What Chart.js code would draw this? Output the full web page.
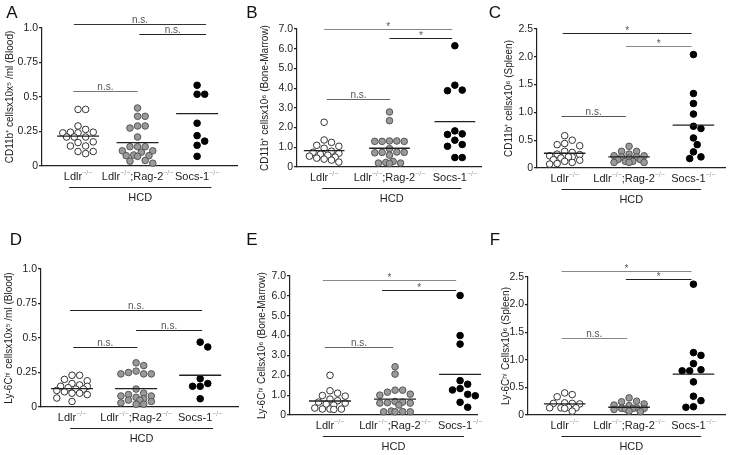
<!DOCTYPE html>
<html>
<head>
<meta charset="utf-8">
<script src="https://cdn.jsdelivr.net/npm/chart.js@4.4.0/dist/chart.umd.min.js"></script>
<style>
  html, body { margin: 0; padding: 0; background: #fff; }
  #wrap { position: relative; width: 730px; height: 455px; }
  .cell { position: absolute; }
</style>
</head>
<body>
<div id="wrap"></div>
<script>
// categories: [text, superscript, text, superscript]
var categories = [
  ['Ldlr', '\u2212/\u2212'],
  ['Ldlr', '\u2212/\u2212', ';Rag-2', '\u2212/\u2212'],
  ['Socs-1', '\u2212/\u2212']
];
var bracketLabel = 'HCD';

// A - CD11b+ blood
var cd11bBloodLdlr = [0.41, 0.41, 0.29, 0.265, 0.245, 0.245, 0.24, 0.24, 0.21, 0.21, 0.21, 0.175, 0.17, 0.145, 0.145, 0.105, 0.105, 0.09];
var cd11bBloodRag = [0.42, 0.36, 0.36, 0.29, 0.29, 0.275, 0.21, 0.14, 0.14, 0.14, 0.11, 0.11, 0.10, 0.08, 0.075, 0.075, 0.07, 0.04, 0.035, 0.02];
var cd11bBloodSocs = [0.585, 0.52, 0.52, 0.31, 0.22, 0.18, 0.15, 0.07];
var cd11bBloodMeans = [0.217, 0.169, 0.38];
var cd11bBloodSig = ['n.s.', 'n.s.', 'n.s.'];

// B - CD11b+ bone marrow
var cd11bMarrowLdlr = [2.27, 1.37, 1.25, 1.1, 1.05, 0.95, 0.8, 0.75, 0.7, 0.65, 0.6, 0.55, 0.5, 0.45, 0.4, 0.35, 0.25];
var cd11bMarrowRag = [2.79, 2.35, 1.32, 1.3, 1.3, 1.3, 1.32, 0.93, 0.76, 0.74, 0.72, 0.74, 0.6, 0.28, 0.23, 0.18, 0.2, 0.2];
var cd11bMarrowSocs = [6.15, 4.15, 3.9, 3.87, 1.83, 1.68, 1.65, 1.36, 1.14, 1.05, 0.48, 0.48];
var cd11bMarrowMeans = [0.83, 0.95, 2.3];
var cd11bMarrowSig = ['*', '*', 'n.s.'];

// C - CD11b+ spleen
var cd11bSpleenLdlr = [0.58, 0.5, 0.44, 0.42, 0.4, 0.3, 0.28, 0.25, 0.24, 0.22, 0.21, 0.2, 0.2, 0.18, 0.15, 0.14, 0.12, 0.1, 0.08, 0.07];
var cd11bSpleenRag = [0.39, 0.3, 0.3, 0.25, 0.22, 0.22, 0.2, 0.2, 0.18, 0.15, 0.15, 0.12, 0.12, 0.1, 0.1, 0.1];
var cd11bSpleenSocs = [2.04, 1.34, 1.16, 0.97, 0.75, 0.71, 0.54, 0.42, 0.29, 0.2, 0.17];
var cd11bSpleenMeans = [0.265, 0.2, 0.77];
var cd11bSpleenSig = ['*', '*', 'n.s.'];

// D - Ly-6Chi blood
var ly6cBloodLdlr = [0.23, 0.23, 0.2, 0.19, 0.17, 0.16, 0.15, 0.15, 0.14, 0.13, 0.13, 0.12, 0.11, 0.1, 0.1, 0.09, 0.065, 0.04];
var ly6cBloodRag = [0.32, 0.3, 0.26, 0.25, 0.24, 0.24, 0.24, 0.13, 0.1, 0.09, 0.08, 0.08, 0.07, 0.06, 0.05, 0.05, 0.04, 0.03, 0.02, 0.02];
var ly6cBloodSocs = [0.47, 0.435, 0.205, 0.17, 0.15, 0.15, 0.06];
var ly6cBloodMeans = [0.133, 0.133, 0.23];
var ly6cBloodSig = ['n.s.', 'n.s.', 'n.s.'];

// E - Ly-6Chi bone marrow
var ly6cMarrowLdlr = [2.0, 1.22, 1.1, 0.98, 0.95, 0.8, 0.72, 0.65, 0.6, 0.55, 0.5, 0.35, 0.3, 0.3, 0.3, 0.28];
var ly6cMarrowRag = [2.43, 2.06, 1.25, 1.25, 1.15, 1.05, 1.0, 0.68, 0.65, 0.62, 0.6, 0.6, 0.5, 0.2, 0.17, 0.16, 0.16, 0.16];
var ly6cMarrowSocs = [6.02, 4.0, 3.57, 1.73, 1.55, 1.33, 1.26, 1.04, 0.97, 0.64, 0.39];
var ly6cMarrowMeans = [0.705, 0.8, 2.05];
var ly6cMarrowSig = ['*', '*', 'n.s.'];

// F - Ly-6Chi spleen
var ly6cSpleenLdlr = [0.4, 0.37, 0.33, 0.22, 0.21, 0.21, 0.2, 0.14, 0.13, 0.13, 0.13, 0.12, 0.07];
var ly6cSpleenRag = [0.31, 0.25, 0.24, 0.2, 0.18, 0.17, 0.13, 0.12, 0.12, 0.12, 0.11, 0.1, 0.07, 0.06];
var ly6cSpleenSocs = [2.37, 1.13, 1.08, 0.93, 0.82, 0.8, 0.8, 0.6, 0.34, 0.26, 0.15, 0.14];
var ly6cSpleenMeans = [0.2, 0.14, 0.74];
var ly6cSpleenSig = ['*', '*', 'n.s.'];

// tick labels
var bloodTicks = ['0', '0.25', '0.5', '0.75', '1.0'];
var marrowTicks = ['0', '1.0', '2.0', '3.0', '4.0', '5.0', '6.0', '7.0'];
var spleenTicks = ['0', '0.5', '1.0', '1.5', '2.0', '2.5'];

Chart.defaults.font.family = "'Liberation Sans', Arial, sans-serif";
Chart.defaults.color = '#222';

var panels = [
  { letter: 'A', title: 'CD11b\u207A cellsx10x\u2075 /ml (Blood)', groups: [cd11bBloodLdlr, cd11bBloodRag, cd11bBloodSocs],
    means: cd11bBloodMeans, sig: cd11bBloodSig, ticks: bloodTicks, yMax: 1, step: 0.25,
    L: { cell: [0, 0, 243, 225], axisX: 42, top: 28, bottom: 166, right: 237, titleX: 10, xMin: 0.395, xMax: 3.67,
         letterPos: [12, 13], hcd: [0.85, 3.24],
         bars: [[1.03, 0.93, 3.15, '#333'], [0.96, 2.03, 3.15, '#222'], [0.54, 0.92, 2.0, '#777']] } },
  { letter: 'B', title: 'CD11b\u207A cellsx10\u2076 (Bone-Marrow)', groups: [cd11bMarrowLdlr, cd11bMarrowRag, cd11bMarrowSocs],
    means: cd11bMarrowMeans, sig: cd11bMarrowSig, ticks: marrowTicks, yMax: 7, step: 1,
    L: { cell: [243, 0, 243, 225], axisX: 297, top: 29, bottom: 167, right: 487, titleX: 265, xMin: 0.585, xMax: 3.4,
         letterPos: [252, 13], hcd: [0.97, 3.1],
         bars: [[7.0, 1.0, 2.96, '#888'], [6.53, 2.0, 2.96, '#222'], [3.45, 1.04, 2.01, '#666']] } },
  { letter: 'C', title: 'CD11b\u207A cellsx10\u2076 (Spleen)', groups: [cd11bSpleenLdlr, cd11bSpleenRag, cd11bSpleenSocs],
    means: cd11bSpleenMeans, sig: cd11bSpleenSig, ticks: spleenTicks, yMax: 2.5, step: 0.5,
    L: { cell: [486, 0, 244, 225], axisX: 537, top: 29, bottom: 168, right: 727, titleX: 509, xMin: 0.57, xMax: 3.49,
         letterPos: [495, 13], hcd: [0.95, 3.12],
         bars: [[2.42, 0.97, 2.97, '#222'], [2.2, 1.95, 2.97, '#888'], [0.935, 0.95, 1.95, '#555']] } },
  { letter: 'D', title: 'Ly-6C\u02B0\u2071 cellsx10x\u2075 /ml (Blood)', groups: [ly6cBloodLdlr, ly6cBloodRag, ly6cBloodSocs],
    means: ly6cBloodMeans, sig: ly6cBloodSig, ticks: bloodTicks, yMax: 1, step: 0.25,
    L: { cell: [0, 225, 243, 230], axisX: 41, top: 269, bottom: 407, right: 238, titleX: 9, xMin: 0.516, xMax: 3.59,
         letterPos: [16, 240], hcd: [0.97, 3.2],
         bars: [[0.70, 0.97, 3.03, '#222'], [0.558, 2.0, 3.03, '#222'], [0.435, 1.02, 2.02, '#222']] } },
  { letter: 'E', title: 'Ly-6C\u02B0\u2071 Cellsx10\u2076 (Bone-Marrow)', groups: [ly6cMarrowLdlr, ly6cMarrowRag, ly6cMarrowSocs],
    means: ly6cMarrowMeans, sig: ly6cMarrowSig, ticks: marrowTicks, yMax: 7, step: 1,
    L: { cell: [243, 225, 243, 230], axisX: 290, top: 276, bottom: 415, right: 477, titleX: 262, xMin: 0.385, xMax: 3.26,
         letterPos: [252, 240], hcd: [0.89, 3.06],
         bars: [[6.78, 0.89, 2.94, '#888'], [6.28, 1.8, 2.94, '#222'], [3.44, 0.92, 1.97, '#666']] } },
  { letter: 'F', title: 'Ly-6C\u02B0\u2071 Cellsx10\u2076 (Spleen)', groups: [ly6cSpleenLdlr, ly6cSpleenRag, ly6cSpleenSocs],
    means: ly6cSpleenMeans, sig: ly6cSpleenSig, ticks: spleenTicks, yMax: 2.5, step: 0.5,
    L: { cell: [486, 225, 244, 230], axisX: 528, top: 277, bottom: 415, right: 727, titleX: 506, xMin: 0.43, xMax: 3.49,
         letterPos: [495, 240], hcd: [0.95, 3.12],
         bars: [[2.61, 0.95, 2.97, '#888'], [2.46, 1.95, 2.97, '#222'], [1.39, 0.95, 1.97, '#888']] } }
];

var pointStyles = [
  { bg: '#ffffff', border: '#333333' },
  { bg: '#9a9a9a', border: '#555555' },
  { bg: '#000000', border: '#000000' }
];

// simple beeswarm: spread points sideways (in pixels), at most two columns each side
function swarm(values, cat, pxPerY, pxPerX) {
  var d = 7.6;
  var cands = [0, d / 2, -d / 2, d, -d, 1.5 * d, -1.5 * d, 2 * d, -2 * d];
  var placed = [];
  var order = values.map(function(v, i) { return i; })
    .sort(function(a, b) { return values[b] - values[a]; });
  var out = [];
  order.forEach(function(i) {
    var y = values[i] * pxPerY;
    var best = 0, bestDist = -1;
    for (var k = 0; k < cands.length; k++) {
      var c = cands[k];
      var minD = Infinity;
      placed.forEach(function(p) {
        var dx = p.x - c, dy = p.y - y;
        minD = Math.min(minD, Math.sqrt(dx * dx + dy * dy));
      });
      if (minD >= d * 0.96) { best = c; bestDist = minD; break; }
      if (minD > bestDist + 0.5) { best = c; bestDist = minD; }
    }
    placed.push({ x: best, y: y });
    out.push({ x: cat + best / pxPerX, y: values[i] });
  });
  return out;
}

function drawCategory(ctx, parts, x, y) {
  var big = "11px 'Liberation Sans', Arial, sans-serif";
  var small = "7px 'Liberation Sans', Arial, sans-serif";
  var w = 0;
  parts.forEach(function(t, i) {
    ctx.font = i % 2 ? small : big;
    w += ctx.measureText(t).width;
  });
  var cx = x - w / 2;
  ctx.textAlign = 'left';
  ctx.textBaseline = 'middle';
  parts.forEach(function(t, i) {
    ctx.font = i % 2 ? small : big;
    ctx.fillStyle = i % 2 ? '#999' : '#222';
    ctx.fillText(t, cx, i % 2 ? y - 3 : y);
    cx += ctx.measureText(t).width;
  });
}

function makeDecor(p) {
  return {
    id: 'decor' + p.letter,
    afterDraw: function(chart) {
      var ctx = chart.ctx;
      var xs = chart.scales.x, ys = chart.scales.y;
      var L = p.L;
      var ox = L.cell[0], oy = L.cell[1];
      var base = chart.chartArea.bottom;
      ctx.save();

      // significance bars
      L.bars.forEach(function(b, i) {
        var y = Math.round(ys.getPixelForValue(b[0])) + 0.5;
        var x0 = xs.getPixelForValue(b[1]), x1 = xs.getPixelForValue(b[2]);
        ctx.strokeStyle = b[3];
        ctx.lineWidth = 1.2;
        ctx.beginPath();
        ctx.moveTo(x0, y);
        ctx.lineTo(x1, y);
        ctx.stroke();
        ctx.fillStyle = '#555';
        ctx.font = "10px 'Liberation Sans', Arial, sans-serif";
        ctx.textAlign = 'center';
        ctx.textBaseline = 'bottom';
        ctx.fillText(p.sig[i], (x0 + x1) / 2, p.sig[i] === '*' ? y + 3 : y + 1);
      });

      // category labels
      categories.forEach(function(parts, i) {
        drawCategory(ctx, parts, xs.getPixelForValue(i + 1), base + 10.5);
      });

      // HCD bracket
      var hx0 = xs.getPixelForValue(L.hcd[0]), hx1 = xs.getPixelForValue(L.hcd[1]);
      var hy = Math.round(base + 20.5) + 0.5;
      ctx.strokeStyle = '#222';
      ctx.lineWidth = 1.2;
      ctx.beginPath();
      ctx.moveTo(hx0, hy);
      ctx.lineTo(hx1, hy);
      ctx.stroke();
      ctx.fillStyle = '#222';
      ctx.font = "11px 'Liberation Sans', Arial, sans-serif";
      ctx.textAlign = 'center';
      ctx.textBaseline = 'middle';
      ctx.fillText(bracketLabel, (hx0 + hx1) / 2, base + 31.5);

      // panel letter
      ctx.font = "17px 'Liberation Sans', Arial, sans-serif";
      ctx.fillStyle = '#111';
      ctx.fillText(p.letter, L.letterPos[0] - ox, L.letterPos[1] - oy);
      ctx.restore();
    }
  };
}

var wrap = document.getElementById('wrap');

panels.forEach(function(p) {
  var L = p.L;
  var cell = L.cell;
  var div = document.createElement('div');
  div.className = 'cell';
  div.style.left = cell[0] + 'px';
  div.style.top = cell[1] + 'px';
  div.style.width = cell[2] + 'px';
  div.style.height = cell[3] + 'px';
  var canvas = document.createElement('canvas');
  canvas.width = cell[2];
  canvas.height = cell[3];
  div.appendChild(canvas);
  wrap.appendChild(div);

  var pxPerY = (L.bottom - L.top) / p.yMax;
  var pxPerX = (L.right - L.axisX) / (L.xMax - L.xMin);
  var halfMean = 21 / pxPerX;
  var padLeft = L.titleX - 6 - cell[0];
  var yWidth = L.axisX - cell[0] - padLeft;

  var datasets = [];
  p.groups.forEach(function(vals, g) {
    var cat = g + 1;
    datasets.push({
      type: 'line',
      data: [{ x: cat - halfMean, y: p.means[g] }, { x: cat + halfMean, y: p.means[g] }],
      borderColor: '#222',
      borderWidth: 1.3,
      pointRadius: 0,
      order: 0,
      clip: false
    });
    datasets.push({
      type: 'scatter',
      data: swarm(vals, cat, pxPerY, pxPerX),
      backgroundColor: pointStyles[g].bg,
      borderColor: pointStyles[g].border,
      borderWidth: 1,
      pointRadius: 3.3,
      order: 1,
      clip: false
    });
  });

  new Chart(canvas, {
    type: 'scatter',
    data: { datasets: datasets },
    options: {
      responsive: false,
      animation: false,
      events: [],
      layout: {
        padding: {
          left: padLeft,
          top: L.top - cell[1],
          right: cell[0] + cell[2] - L.right,
          bottom: cell[1] + cell[3] - L.bottom
        }
      },
      plugins: { legend: { display: false }, tooltip: { enabled: false } },
      scales: {
        x: {
          type: 'linear',
          min: L.xMin,
          max: L.xMax,
          ticks: { display: false },
          grid: { display: false },
          border: { color: '#222', width: 1.2 },
          afterFit: function(s) { s.height = 0; }
        },
        y: {
          min: 0,
          max: p.yMax,
          ticks: {
            stepSize: p.step,
            autoSkip: false,
            padding: 1,
            color: '#222',
            font: { size: 10.5 },
            callback: function(v, i) { return p.ticks[i]; }
          },
          grid: { drawOnChartArea: false, drawTicks: true, tickLength: 3, color: '#222', lineWidth: 1.2 },
          border: { color: '#222', width: 1.2 },
          title: { display: true, text: p.title, color: '#222', font: { size: 10 }, padding: 0 },
          afterFit: function(s) { s.width = yWidth; }
        }
      }
    },
    plugins: [makeDecor(p)]
  });
});
</script>
</body>
</html>
